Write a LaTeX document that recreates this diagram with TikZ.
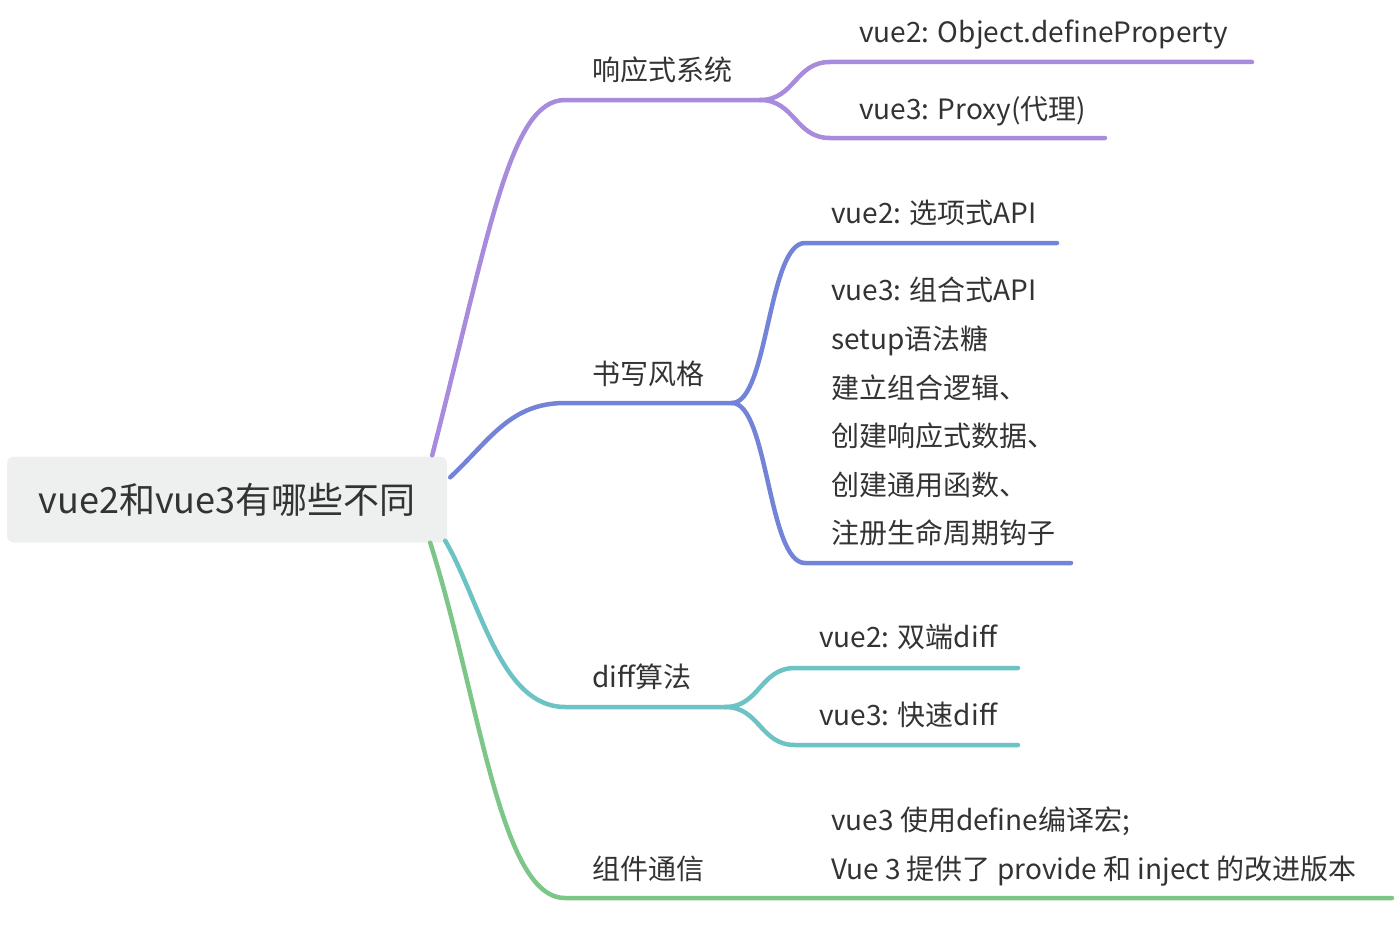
\documentclass[tikz,border=0pt]{standalone}
\usepackage{fontspec}
\setmainfont{Noto Sans CJK SC}
\usepackage{tikz}
\usetikzlibrary{positioning,calc}
\definecolor{ink}{HTML}{333333}
\definecolor{rootbg}{HTML}{EEF0F0}
\definecolor{rsc}{HTML}{A88BDC}
\definecolor{sxc}{HTML}{7384D8}
\definecolor{dfc}{HTML}{6DC2C4}
\definecolor{zjc}{HTML}{7CC688}
\tikzset{
  root/.style={fill=rootbg, rounded corners=7pt, minimum width=440pt,
               minimum height=86pt, inner sep=0pt, text=ink,
               font=\fontsize{36}{36}\selectfont},
  lbl/.style={anchor=west, inner sep=0pt, text=ink, text height=0.88em,
              text depth=0.12em, yshift=-7pt,
              font=\fontsize{28}{28}\selectfont},
  br/.style={line width=4.5pt, line cap=round},
}

\begin{document}
\begin{tikzpicture}[x=1pt,y=-1pt]
  \useasboundingbox (0,0) rectangle (1398,942);
  % root
  \node[root] (root) at (227,499.5) {vue2和vue3有哪些不同};
  % topics
  \node[lbl] (rs) at (592,70) {响应式系统};
  \node[lbl] (sx) at (592,374) {书写风格};
  \node[lbl] (df) at (592,677) {diff算法};
  \node[lbl] (zj) at (592,869) {组件通信};
  % leaves
  \node[lbl] (rs1) at (859,32) {vue2: Object.defineProperty};
  \node[lbl] (rs2) at (859,109) {vue3: Proxy(代理)};
  \node[lbl] (sx1) at (831,213) {vue2: 选项式API};
  \foreach \t [count=\i] in {vue3: 组合式API, setup语法糖, 建立组合逻辑、,
      创建响应式数据、, 创建通用函数、, 注册生命周期钩子}
    \node[lbl] (sx2-\i) at (831,{290+48.6*(\i-1)}) {\t};
  \node[lbl] (df1) at (819,637) {vue2: 双端diff};
  \node[lbl] (df2) at (819,715) {vue3: 快速diff};
  \node[lbl] (zj1) at (831,820) {vue3 使用define编译宏;};
  \node[lbl] (zj2) at (831,869) {Vue 3 提供了 provide 和 inject 的改进版本};
  % line points
  \coordinate (rs-o) at ($(root.north east)+(-15,-1)$);
  \coordinate (sx-o) at ($(root.north east)+(3,21)$);
  \coordinate (df-o) at ($(root.south east)+(-2,-2)$);
  \coordinate (zj-o) at ($(root.south east)+(-17,0)$);
  \coordinate (rs-a) at (565,100); \coordinate (rs-f) at (760,100);
  \coordinate (sx-a) at (565,403); \coordinate (sx-f) at (732,403);
  \coordinate (df-a) at (565,707); \coordinate (df-f) at (725,707);
  \coordinate (zj-a) at (565,898); \coordinate (zj-e) at (1392,898);
  \coordinate (rs1-a) at (830,62);  \coordinate (rs1-e) at (1252,62);
  \coordinate (rs2-a) at (830,138); \coordinate (rs2-e) at (1105,138);
  \coordinate (sx1-a) at (805,243); \coordinate (sx1-e) at (1057,243);
  \coordinate (sx2-a) at (805,563); \coordinate (sx2-e) at (1071,563);
  \coordinate (df1-a) at (795,668); \coordinate (df1-e) at (1018,668);
  \coordinate (df2-a) at (795,745); \coordinate (df2-e) at (1018,745);
  % branches
  \draw[br, rsc] (rs-o) .. controls (490,230) and (510,100) .. (rs-a) -- (rs-f);
  \draw[br, sxc] (sx-o) .. controls (490,440) and (510,403) .. (sx-a) -- (sx-f);
  \draw[br, dfc] (df-o) .. controls (480,600) and (500,707) .. (df-a) -- (df-f);
  \draw[br, zjc] (zj-o) .. controls (480,700) and (500,898) .. (zj-a) -- (zj-e);
  % forks
  \draw[br, rsc] (rs-f) .. controls (795,100) and (795,62) .. (rs1-a) -- (rs1-e);
  \draw[br, rsc] (rs-f) .. controls (795,100) and (795,138) .. (rs2-a) -- (rs2-e);
  \draw[br, sxc] (sx-f) .. controls (768,403) and (768,243) .. (sx1-a) -- (sx1-e);
  \draw[br, sxc] (sx-f) .. controls (768,403) and (768,563) .. (sx2-a) -- (sx2-e);
  \draw[br, dfc] (df-f) .. controls (760,707) and (760,668) .. (df1-a) -- (df1-e);
  \draw[br, dfc] (df-f) .. controls (760,707) and (760,745) .. (df2-a) -- (df2-e);
\end{tikzpicture}
\end{document}
